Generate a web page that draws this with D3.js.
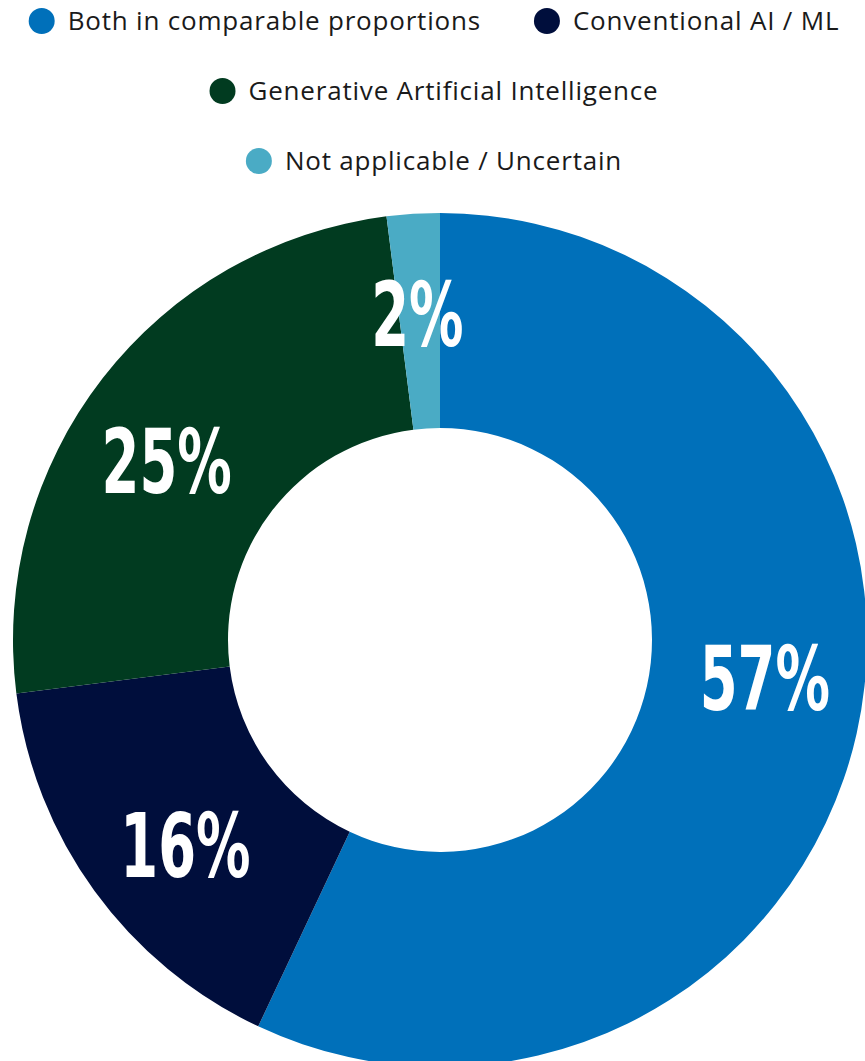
<!DOCTYPE html>
<html>
<head>
<meta charset="utf-8">
<script src="https://cdn.jsdelivr.net/npm/d3@7"></script>
<style>
  html, body { margin: 0; padding: 0; background: #ffffff; }
  svg { display: block; }
</style>
</head>
<body>
<svg id="chart" width="865" height="1061"></svg>
<script>
// Share of responses by type of AI in use
const categories = [
  "Both in comparable proportions",
  "Conventional AI / ML",
  "Generative Artificial Intelligence",
  "Not applicable / Uncertain"
];
const shares = [57, 16, 25, 2];
const colors = ["#0070ba", "#000e3c", "#013b20", "#4aabc5"];
// legend rows (indices into categories)
const legendRows = [[0, 1], [2], [3]];

const width = 865, height = 1061;
const cx = 440, cy = 640;
const outerR = 427, innerR = 212;
const labelR = 327;
const labelShift = -6 * Math.PI / 180; // nudge labels counterclockwise

const svg = d3.select("#chart");

const data = categories.map((c, i) => ({ name: c, value: shares[i], color: colors[i] }));

const pie = d3.pie().value(d => d.value).sort(null);
const arc = d3.arc().innerRadius(innerR).outerRadius(outerR);

const g = svg.append("g").attr("transform", `translate(${cx},${cy})`);
const arcs = pie(data);

g.selectAll("path.slice")
  .data(arcs)
  .join("path")
  .attr("class", "slice")
  .attr("d", arc)
  .attr("fill", d => d.data.color);

// label angle: slice middle, nudged but kept well inside narrow slices
function labelPos(d) {
  const half = (d.endAngle - d.startAngle) / 2;
  const shift = Math.sign(labelShift) * Math.min(Math.abs(labelShift), half * 0.1);
  const a = d.startAngle + half + shift;
  return [labelR * Math.sin(a), -labelR * Math.cos(a)];
}

// value labels: bold condensed numerals
g.selectAll("text.val")
  .data(arcs)
  .join("text")
  .attr("class", "val")
  .attr("transform", d => {
    const [x, y] = labelPos(d);
    return `translate(${x},${y}) scale(0.68,1)`;
  })
  .attr("text-anchor", "middle")
  .attr("dy", "0.36em")
  .style("font-family", "'DejaVu Sans Condensed', 'DejaVu Sans', sans-serif")
  .style("font-weight", "bold")
  .style("font-size", "89px")
  .attr("fill", "#ffffff")
  .text(d => d.data.value + "%");

// legend
const legend = svg.append("g").attr("class", "legend");
const legendCenterX = 434;
const rowY0 = 21, rowGap = 70;
const dotR = 13, dotGap = 13, itemGap = 53;
const legendFont = "'Open Sans', sans-serif";
const legendSize = 26;

legendRows.forEach((row, ri) => {
  const rowG = legend.append("g");
  let x = 0;
  row.forEach(idx => {
    const item = rowG.append("g");
    item.append("circle").attr("cx", dotR).attr("cy", 0).attr("r", dotR).attr("fill", colors[idx]);
    const t = item.append("text")
      .attr("x", dotR * 2 + dotGap)
      .attr("dy", "0.35em")
      .style("font-family", legendFont)
      .style("font-size", legendSize + "px")
      .style("letter-spacing", "0.8px")
      .attr("fill", "#1a1a1a")
      .text(categories[idx]);
    const w = dotR * 2 + dotGap + t.node().getComputedTextLength();
    item.attr("transform", `translate(${x},0)`);
    x += w + itemGap;
  });
  const total = x - itemGap;
  rowG.attr("transform", `translate(${legendCenterX - total / 2},${rowY0 + ri * rowGap})`);
});
</script>
</body>
</html>
